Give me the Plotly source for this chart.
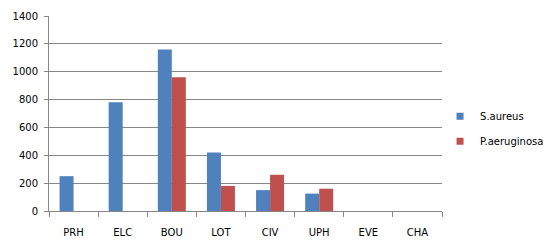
import plotly.graph_objects as go

categories = ["PRH", "ELC", "BOU", "LOT", "CIV", "UPH", "EVE", "CHA"]
s_aureus = [250, 780, 1160, 420, 150, 125, 0, 0]
p_aeruginosa = [0, 0, 960, 180, 260, 160, 0, 0]
series_names = ["S.aureus", "P.aeruginosa"]
colors = ["#4F81BD", "#C0504D"]

FONT = "Verdana, 'DejaVu Sans', sans-serif"
GRID = "#868686"

fig = go.Figure()
for name, vals, col in zip(series_names, [s_aureus, p_aeruginosa], colors):
    fig.add_trace(go.Bar(x=categories, y=vals, name=name, marker_color=col,
                         marker_line_width=0, showlegend=False))
for i, (name, col) in enumerate(zip(series_names, colors)):
    fig.add_trace(go.Scatter(x=[None], y=[None], mode="markers", name=name,
                             marker=dict(symbol="square", size=7, color=col),
                             legendgroup=f"g{i}", showlegend=True))

# page body has an 8px default margin, so the figure is sized/margined to compensate
fig.update_layout(
    width=543, height=236,
    margin=dict(l=41, r=109, t=8, b=33, autoexpand=False),
    paper_bgcolor="white", plot_bgcolor="white",
    barmode="group", bargap=0.43, bargroupgap=0,
    font=dict(family=FONT, size=10, color="black"),
    showlegend=True,
    legend=dict(x=0.995, y=0.56, xanchor="left", yanchor="top",
                traceorder="grouped", tracegroupgap=6,
                itemwidth=30, font=dict(family=FONT, size=10, color="black"),
                bgcolor="rgba(0,0,0,0)"),
)
fig.update_xaxes(
    type="category", tickson="boundaries", ticks="outside", ticklen=5,
    tickcolor=GRID, showline=True, linecolor=GRID, linewidth=1,
    showgrid=False, ticklabelstandoff=12, automargin=False,
    tickfont=dict(family=FONT, size=10, color="black"),
)
fig.update_yaxes(
    range=[0, 1400], dtick=200, ticks="outside", ticklen=4, tickcolor=GRID,
    showline=True, linecolor=GRID, linewidth=1, automargin=False,
    showgrid=True, gridcolor=GRID, gridwidth=1, zeroline=False,
    ticklabelstandoff=4,
    tickfont=dict(family=FONT, size=10, color="black"),
)

fig.write_html("out.html")
